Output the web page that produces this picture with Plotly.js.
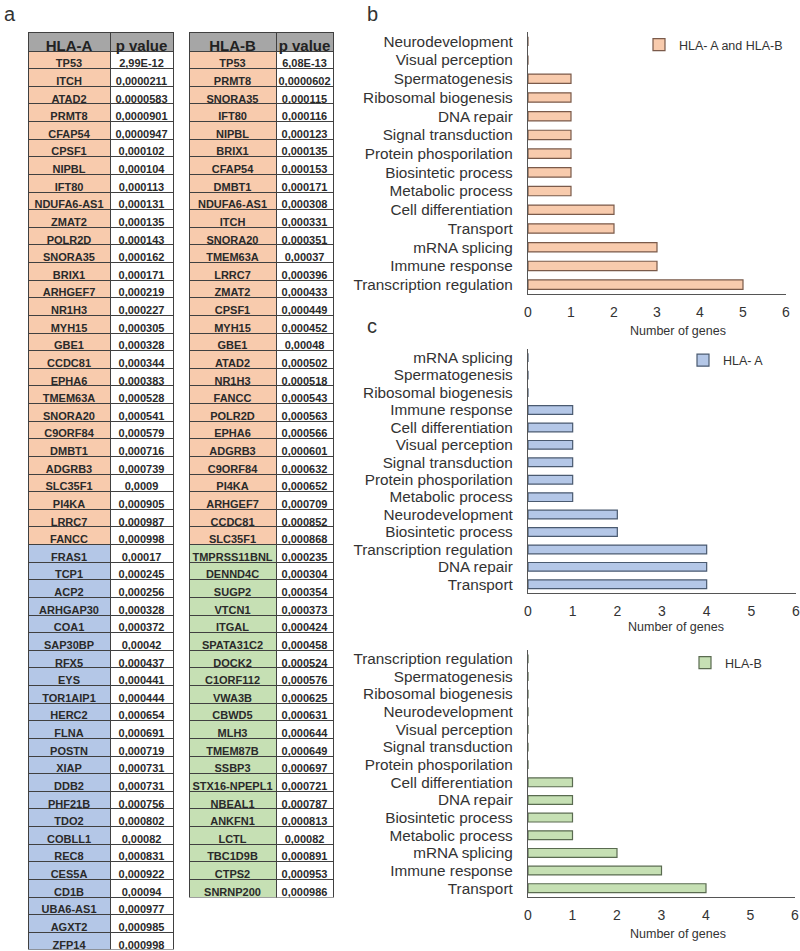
<!DOCTYPE html>
<html>
<head>
<meta charset="utf-8">
<script src="https://cdn.plot.ly/plotly-3.0.1.min.js"></script>
<style>html,body{margin:0;padding:0;background:#fff}#chart{width:800px;height:951px}</style>
</head>
<body>
<div id="chart"></div>
<script>
// ---------- Table data (panel a) ----------
const headerA = ["HLA-A", "p\u00a0value"];
const headerB = ["HLA-B", "p\u00a0value"];

const genesA_shared = ["TP53","ITCH","ATAD2","PRMT8","CFAP54","CPSF1","NIPBL","IFT80","NDUFA6-AS1","ZMAT2","POLR2D","SNORA35","BRIX1","ARHGEF7","NR1H3","MYH15","GBE1","CCDC81","EPHA6","TMEM63A","SNORA20","C9ORF84","DMBT1","ADGRB3","SLC35F1","PI4KA","LRRC7","FANCC"];
const pA_shared = ["2,99E-12","0,0000211","0,0000583","0,0000901","0,0000947","0,000102","0,000104","0,000113","0,000131","0,000135","0,000143","0,000162","0,000171","0,000219","0,000227","0,000305","0,000328","0,000344","0,000383","0,000528","0,000541","0,000579","0,000716","0,000739","0,0009","0,000905","0,000987","0,000998"];
const genesA_only = ["FRAS1","TCP1","ACP2","ARHGAP30","COA1","SAP30BP","RFX5","EYS","TOR1AIP1","HERC2","FLNA","POSTN","XIAP","DDB2","PHF21B","TDO2","COBLL1","REC8","CES5A","CD1B","UBA6-AS1","AGXT2","ZFP14"];
const pA_only = ["0,00017","0,000245","0,000256","0,000328","0,000372","0,00042","0,000437","0,000441","0,000444","0,000654","0,000691","0,000719","0,000731","0,000731","0,000756","0,000802","0,00082","0,000831","0,000922","0,00094","0,000977","0,000985","0,000998"];

const genesB_shared = ["TP53","PRMT8","SNORA35","IFT80","NIPBL","BRIX1","CFAP54","DMBT1","NDUFA6-AS1","ITCH","SNORA20","TMEM63A","LRRC7","ZMAT2","CPSF1","MYH15","GBE1","ATAD2","NR1H3","FANCC","POLR2D","EPHA6","ADGRB3","C9ORF84","PI4KA","ARHGEF7","CCDC81","SLC35F1"];
const pB_shared = ["6,08E-13","0,0000602","0,000115","0,000116","0,000123","0,000135","0,000153","0,000171","0,000308","0,000331","0,000351","0,00037","0,000396","0,000433","0,000449","0,000452","0,00048","0,000502","0,000518","0,000543","0,000563","0,000566","0,000601","0,000632","0,000652","0,000709","0,000852","0,000868"];
const genesB_only = ["TMPRSS11BNL","DENND4C","SUGP2","VTCN1","ITGAL","SPATA31C2","DOCK2","C1ORF112","VWA3B","CBWD5","MLH3","TMEM87B","SSBP3","STX16-NPEPL1","NBEAL1","ANKFN1","LCTL","TBC1D9B","CTPS2","SNRNP200"];
const pB_only = ["0,000235","0,000304","0,000354","0,000373","0,000424","0,000458","0,000524","0,000576","0,000625","0,000631","0,000644","0,000649","0,000697","0,000721","0,000787","0,000813","0,00082","0,000891","0,000953","0,000986"];

// ---------- Bar chart data ----------
const catsBoth = ["Neurodevelopment","Visual perception","Spermatogenesis","Ribosomal biogenesis","DNA repair","Signal transduction","Protein phosporilation","Biosintetic process","Metabolic process","Cell differentiation","Transport","mRNA splicing","Immune response","Transcription regulation"];
const valsBoth = [0,0,1,1,1,1,1,1,1,2,2,3,3,5];

const catsA = ["mRNA splicing","Spermatogenesis","Ribosomal biogenesis","Immune response","Cell differentiation","Visual perception","Signal transduction","Protein phosporilation","Metabolic process","Neurodevelopment","Biosintetic process","Transcription regulation","DNA repair","Transport"];
const valsA = [0,0,0,1,1,1,1,1,1,2,2,4,4,4];

const catsB = ["Transcription regulation","Spermatogenesis","Ribosomal biogenesis","Neurodevelopment","Visual perception","Signal transduction","Protein phosporilation","Cell differentiation","DNA repair","Biosintetic process","Metabolic process","mRNA splicing","Immune response","Transport"];
const valsB = [0,0,0,0,0,0,0,1,1,1,1,2,3,4];

const xTicks = [0,1,2,3,4,5,6];
const xTitle = "Number of genes";

// ---------- Styling ----------
const W = 800, H = 951;
const ORANGE = "#f8cbad", BLUE = "#b4c7e7", GREEN = "#c6e0b4", HEAD = "#a6a6a6";
const px = v => v / W;
const py = v => 1 - v / H;
const FONT = "Liberation Sans, Arial, sans-serif";
const TXT = "#333333";
const LINE = {color: "#404040", width: 1};
const HEAD_H = 19, ROW_H = 17.625, TOP = 32;
const cellFont = {family: FONT, size: 11, color: "#2a2a2a", weight: 700};

// Upper block: header + genes shared by HLA-A and HLA-B (orange)
function tableTop(header, genes, pvals, x0, x1, colw) {
  const yBottom = TOP + HEAD_H + genes.length * ROW_H;
  return {
    type: "table",
    domain: {x: [px(x0), px(x1)], y: [py(yBottom + 0.5), py(TOP)]},
    columnwidth: colw,
    header: {
      values: header, height: HEAD_H,
      fill: {color: HEAD}, line: LINE, align: "center",
      font: {family: FONT, size: 15, color: "#222", weight: 700}
    },
    cells: {
      values: [genes, pvals], height: ROW_H,
      fill: {color: [ORANGE, "#ffffff"]},
      line: LINE, align: "center", font: cellFont
    }
  };
}
// Lower block: genes specific to one allele (first row rendered as the trace header row)
function tableBottom(genes, pvals, color, nAbove, x0, x1, colw) {
  const yTop = TOP + HEAD_H + nAbove * ROW_H;
  const yBot = Math.min(H, yTop + genes.length * ROW_H + 0.5);
  return {
    type: "table",
    domain: {x: [px(x0), px(x1)], y: [py(yBot), py(yTop)]},
    columnwidth: colw,
    header: {
      values: [genes[0], pvals[0]], height: ROW_H,
      fill: {color: [color, "#ffffff"]}, line: LINE, align: "center", font: cellFont
    },
    cells: {
      values: [genes.slice(1), pvals.slice(1)], height: ROW_H,
      fill: {color: [color, "#ffffff"]},
      line: LINE, align: "center", font: cellFont
    }
  };
}

const nA = genesA_shared.length, nB = genesB_shared.length;
const colA = [82, 63], colB = [87, 57];
const tA1 = tableTop(headerA, genesA_shared, pA_shared, 28, 173, colA);
const tA2 = tableBottom(genesA_only, pA_only, BLUE, nA, 28, 173, colA);
const tB1 = tableTop(headerB, genesB_shared, pB_shared, 189, 333, colB);
const tB2 = tableBottom(genesB_only, pB_only, GREEN, nB, 189, 333, colB);

function barTrace(cats, vals, name, color, lineColor, xa, ya, leg) {
  return {
    type: "bar", orientation: "h",
    x: vals, y: cats, name: name,
    xaxis: xa, yaxis: ya,
    legend: leg,
    marker: {color: color, line: {color: lineColor, width: 1.2}},
    hoverinfo: "x+y"
  };
}

const b1 = barTrace(catsBoth, valsBoth, "HLA- A and HLA-B", ORANGE, "#7a5a4a", "x", "y", "legend");
const b2 = barTrace(catsA, valsA, "HLA- A", BLUE, "#4a5a70", "x2", "y2", "legend2");
const b3 = barTrace(catsB, valsB, "HLA-B", GREEN, "#5a6b50", "x3", "y3", "legend3");

function xAx(x1, anchor) {
  return {
    domain: [px(528), px(x1)], anchor: anchor,
    range: [0, 6], tickmode: "array", tickvals: xTicks, ticktext: xTicks.map(String),
    showline: true, linecolor: "#555", linewidth: 1.2,
    showgrid: false, zeroline: false, ticks: "",
    ticklabelstandoff: 5,
    ticklabeloverflow: "allow",
    tickfont: {family: FONT, size: 14, color: TXT},
    fixedrange: true
  };
}
function yAx(cats, y0, y1, anchor) {
  return {
    domain: [py(y1), py(y0)], anchor: anchor,
    type: "category", categoryorder: "array", categoryarray: cats,
    tickmode: "array", tickvals: cats, ticktext: cats,
    autorange: "reversed",
    showline: true, linecolor: "#555", linewidth: 1.2,
    showgrid: false, zeroline: false, ticks: "",
    ticklabelstandoff: 11,
    ticklabeloverflow: "allow",
    tickfont: {family: FONT, size: 15.3, color: TXT},
    fixedrange: true
  };
}

const legendBase = {
  font: {family: FONT, size: 12.5, color: TXT},
  bgcolor: "rgba(0,0,0,0)", borderwidth: 0,
  xanchor: "left", yanchor: "middle"
};

function label(text, x, y, size) {
  return {text: text, x: px(x), y: py(y), xref: "paper", yref: "paper",
          xanchor: "center", yanchor: "middle", showarrow: false,
          font: {family: FONT, size: size, color: TXT}};
}

const layout = {
  width: W, height: H,
  margin: {l: 0, r: 0, t: 0, b: 0},
  paper_bgcolor: "#ffffff", plot_bgcolor: "rgba(0,0,0,0)",
  font: {family: FONT, color: TXT},
  showlegend: true,
  bargap: 0.5,
  xaxis: xAx(786, "y"),
  yaxis: yAx(catsBoth, 32, 294, "x"),
  xaxis2: xAx(796, "y2"),
  yaxis2: yAx(catsA, 349, 593, "x2"),
  xaxis3: xAx(795, "y3"),
  yaxis3: yAx(catsB, 650, 897, "x3"),
  legend: Object.assign({}, legendBase, {x: px(639), y: py(45)}),
  legend2: Object.assign({}, legendBase, {x: px(683), y: py(360.5)}),
  legend3: Object.assign({}, legendBase, {x: px(685), y: py(663)}),
  annotations: [
    label("a", 10, 14, 20),
    label("b", 372, 14, 20),
    label("c", 372, 326, 20),
    label(xTitle, 678, 331, 12.5),
    label(xTitle, 676, 627, 12.5),
    label(xTitle, 678, 934, 12.5)
  ]
};

// bars first, then HLA-B table, then HLA-A table
Plotly.newPlot("chart", [b1, b2, b3, tB1, tB2, tA1, tA2], layout, {staticPlot: true, displayModeBar: false});
</script>
</body>
</html>
